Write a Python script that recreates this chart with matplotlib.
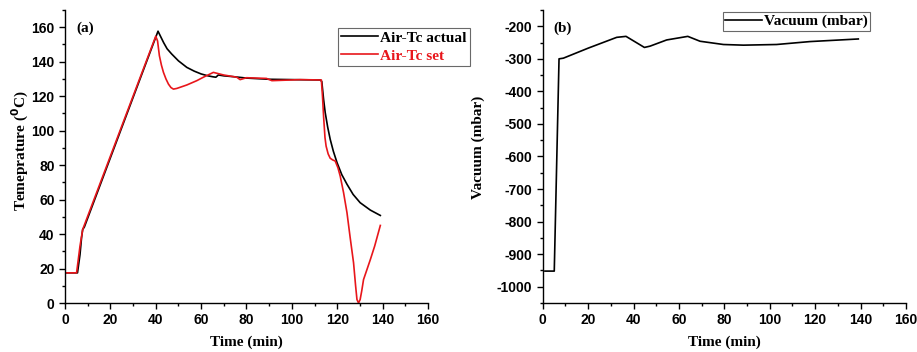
import matplotlib
matplotlib.use("Agg")
import matplotlib.pyplot as plt
from matplotlib.ticker import MultipleLocator

plt.rcParams['font.family'] = 'Liberation Sans'
plt.rcParams['font.weight'] = 'bold'
plt.rcParams['axes.unicode_minus'] = False

# (a) air temperature, actual vs set
t_actual = [0.7, 5.5, 6.6, 7.3, 7.8, 8.5, 41.0, 42.0, 43.5, 45.0, 47.0, 50.0, 53.7, 57.0,
            60.0, 63.0, 65.4, 66.5, 67.6, 70.0, 74.3, 80.0, 90.0, 100.7, 112.5, 113.2,
            114.0, 114.7, 115.8, 116.9, 118.3, 119.9, 122.0, 124.3, 127.0, 130.1, 134.6,
            139.0]
temp_actual = [17.5, 17.5, 28.0, 38.0, 42.7, 44.0, 157.7, 155.0, 151.0, 147.5, 144.5,
               140.5, 136.7, 134.5, 132.9, 131.8, 131.2, 131.0, 132.3, 131.8, 131.3,
               130.5, 129.8, 129.6, 129.4, 128.5, 118.0, 110.5, 102.0, 95.0, 88.0, 81.5,
               74.5, 68.9, 63.0, 58.2, 53.9, 50.8]

t_set = [0.7, 5.1, 6.6, 7.8, 40.0, 40.8, 41.6, 42.5, 43.4, 44.5, 45.6, 46.7, 47.8, 49.3,
         53.7, 58.1, 61.0, 65.4, 69.9, 75.7, 77.2, 80.0, 88.8, 91.2, 103.7, 113.0, 113.5,
         114.0, 114.6, 115.1, 116.0, 116.9, 118.0, 119.1, 120.3, 121.3, 122.8, 124.3,
         125.7, 127.2, 128.1, 128.7, 129.4, 130.1, 130.8, 131.6, 133.0, 134.6, 136.5, 139.0]
temp_set = [17.5, 17.5, 33.0, 42.7, 154.8, 152.0, 143.5, 138.0, 133.8, 130.0, 127.0,
            125.0, 124.1, 124.5, 126.5, 129.0, 131.0, 133.8, 132.3, 131.0, 129.6, 130.7,
            130.3, 129.0, 129.6, 129.4, 120.0, 108.0, 96.0, 91.0, 86.5, 84.0, 83.0, 82.4,
            78.5, 73.7, 64.0, 52.4, 38.0, 23.3, 10.0, 2.0, 0.0, 2.0, 7.0, 13.6, 19.0,
            25.2, 33.0, 45.0]

# (b) vacuum
t_vac = [1.0, 5.1, 7.2, 9.1, 20.1, 32.6, 36.7, 44.8, 47.3, 54.6, 63.9, 69.3, 79.6,
         88.4, 103.0, 117.7, 139.0]
vacuum = [-952, -952, -300, -298, -267, -234, -231, -265, -261, -242, -231, -246,
          -256, -258, -256, -247, -239]

red = '#e8161b'
lab_font = {'family': 'Liberation Serif', 'weight': 'bold', 'size': 11}
leg_font = {'family': 'Liberation Serif', 'weight': 'bold', 'size': 11.1}

fig = plt.figure(figsize=(9.17, 3.52), dpi=100)
ax1 = fig.add_axes([0.0709, 0.1392, 0.3958, 0.8324])
ax2 = fig.add_axes([0.5918, 0.1392, 0.3962, 0.8324])


def style(ax):
    for s in ['top', 'right']:
        ax.spines[s].set_visible(False)
    for s in ['left', 'bottom']:
        ax.spines[s].set_linewidth(1.0)
    ax.tick_params(which='major', direction='out', length=4, width=1, labelsize=10)
    ax.tick_params(which='minor', direction='out', length=2.5, width=1)
    ax.set_xlim(0, 160)
    ax.xaxis.set_major_locator(MultipleLocator(20))
    ax.xaxis.set_minor_locator(MultipleLocator(10))
    ax.set_xlabel('Time (min)', fontdict=lab_font)
    ax.xaxis.set_label_coords(0.5, -0.11)


ax1.plot(t_actual, temp_actual, color='black', lw=1.2, label='Air-Tc actual')
ax1.plot(t_set, temp_set, color=red, lw=1.2, label='Air-Tc set')
ax1.set_ylim(0, 170)
ax1.yaxis.set_major_locator(MultipleLocator(20))
ax1.yaxis.set_minor_locator(MultipleLocator(10))
style(ax1)
ax1.set_ylabel('Temeprature ($\\mathbf{^{0}}$C)', fontdict=lab_font)
ax1.yaxis.set_label_coords(-0.093, 0.52)
ax1.text(0.03, 0.96, '(a)', transform=ax1.transAxes, fontdict=lab_font, va='top')
leg = ax1.legend(loc='upper left', bbox_to_anchor=(338 / 917, 1 - 28 / 352),
                 bbox_transform=fig.transFigure, prop=leg_font, frameon=True,
                 fancybox=False, edgecolor='#444444', handlelength=2.4,
                 handletextpad=0.15, borderpad=0.2, labelspacing=0.25, borderaxespad=0)
leg.get_frame().set_linewidth(0.8)
leg.get_texts()[1].set_color(red)

ax2.plot(t_vac, vacuum, color='black', lw=1.2, label='Vacuum (mbar)')
ax2.set_ylim(-1050, -150)
ax2.yaxis.set_major_locator(MultipleLocator(100))
ax2.yaxis.set_minor_locator(MultipleLocator(50))
style(ax2)
ax2.set_ylabel('Vacuum (mbar)', fontdict=lab_font)
ax2.yaxis.set_label_coords(-0.16, 0.53)
ax2.text(0.03, 0.96, '(b)', transform=ax2.transAxes, fontdict=lab_font, va='top')
leg2 = ax2.legend(loc='upper left', bbox_to_anchor=(723 / 917, 1 - 12 / 352),
                  bbox_transform=fig.transFigure, prop=leg_font, frameon=True,
                  fancybox=False, edgecolor='#444444', handlelength=2.4,
                  handletextpad=0.1, borderpad=0.15, borderaxespad=0)
leg2.get_frame().set_linewidth(0.8)

fig.canvas.draw()
for ax in (ax1, ax2):
    for lb in ax.get_xticklabels() + ax.get_yticklabels():
        lb.set_fontweight('bold')

fig.savefig('out.png', dpi=100)
